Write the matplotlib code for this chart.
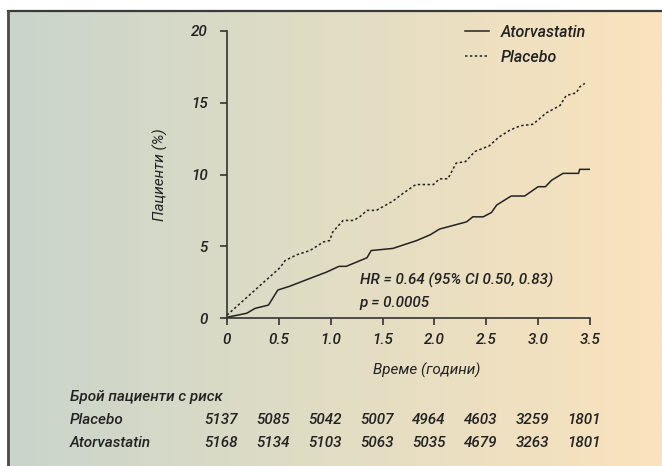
import numpy as np
import matplotlib
matplotlib.use("Agg")
import matplotlib.pyplot as plt
import matplotlib.transforms as mtransforms
from matplotlib.lines import Line2D

plt.rcParams['font.family'] = ['Roboto', 'DejaVu Sans']
plt.rcParams['font.style'] = 'italic'
plt.rcParams['font.weight'] = 500

# curves (years, % patients)
placebo_t = [0, 0.51, 0.56, 0.67, 0.8, 0.93, 0.99, 1.02, 1.07, 1.12, 1.22, 1.28, 1.35, 1.44,
             1.6, 1.7, 1.82, 1.99, 2.05, 2.13, 2.21, 2.3, 2.39, 2.53, 2.62, 2.73, 2.83,
             2.95, 3.08, 3.21, 3.27, 3.37, 3.4, 3.45]
placebo_v = [0.2, 3.5, 4.0, 4.4, 4.7, 5.3, 5.4, 6.0, 6.4, 6.8, 6.8, 7.05, 7.5, 7.5,
             8.15, 8.7, 9.3, 9.3, 9.7, 9.7, 10.8, 10.9, 11.6, 12.0, 12.6, 13.1, 13.4,
             13.5, 14.3, 14.8, 15.5, 15.7, 16.1, 16.35]

atorva_t = [0, 0.19, 0.27, 0.4, 0.49, 0.6, 0.8, 0.96, 1.08, 1.15, 1.35, 1.39, 1.6, 1.83,
            1.96, 2.05, 2.31, 2.37, 2.47, 2.55, 2.6, 2.74, 2.87, 3.0, 3.07, 3.13, 3.24,
            3.39, 3.4, 3.5]
atorva_v = [0.05, 0.33, 0.67, 0.9, 1.95, 2.2, 2.76, 3.2, 3.6, 3.6, 4.2, 4.7, 4.85, 5.4,
            5.8, 6.2, 6.7, 7.05, 7.05, 7.35, 7.87, 8.5, 8.5, 9.15, 9.15, 9.6, 10.08,
            10.08, 10.36, 10.36]

risk_times = [0, 0.5, 1.0, 1.5, 2.0, 2.5, 3.0, 3.5]
risk_placebo = [5137, 5085, 5042, 5007, 4964, 4603, 3259, 1801]
risk_atorva = [5168, 5134, 5103, 5063, 5035, 4679, 3263, 1801]

x_ticks = [0, 0.5, 1.0, 1.5, 2.0, 2.5, 3.0, 3.5]
x_ticklabels = ["0", "0.5", "1.0", "1.5", "2.0", "2.5", "3.0", "3.5"]
y_ticks = [0, 5, 10, 15, 20]

W, H = 662, 466
fig = plt.figure(figsize=(W / 100, H / 100), dpi=100)
fig.patch.set_facecolor("white")

# gradient background with a frame on top and left
bg = fig.add_axes([7 / W, 0, 1 - 7 / W, (H - 11) / H])
stops = np.array([[201, 213, 203], [226, 221, 196], [250, 227, 189]]) / 255
xs = np.linspace(0, 1, 256)
grad = np.stack([np.interp(xs, [0, 0.5, 1], stops[:, c]) for c in range(3)], axis=-1)
bg.imshow(grad[None, :, :], aspect="auto", extent=[0, 1, 0, 1])
bg.set_axis_off()
fig.add_artist(Line2D([7.5 / W, 1], [(H - 10.5) / H] * 2, color="#3a3a3a", lw=1.6))
fig.add_artist(Line2D([8 / W] * 2, [0, (H - 10.5) / H], color="#4a4a4a", lw=2.0))

ax = fig.add_axes([227 / W, (H - 318) / H, (590 - 227) / W, (318 - 31) / H])
ax.patch.set_alpha(0)
ax.plot(atorva_t, atorva_v, color="#222222", lw=1.1, label="Atorvastatin")
ax.plot(placebo_t, placebo_v, color="#222222", lw=1.1, ls=(0, (1.6, 1.6)), label="Placebo")

ax.set_xlim(0, 3.5)
ax.set_ylim(0, 20)
ax.set_xticks(x_ticks)
ax.set_xticklabels(x_ticklabels)
ax.set_yticks(y_ticks)
for s in ["top", "right"]:
    ax.spines[s].set_visible(False)
for s in ["left", "bottom"]:
    ax.spines[s].set_color("#333333")
    ax.spines[s].set_linewidth(1.2)
ax.tick_params(axis="both", colors="#333333", labelcolor="#222222", labelsize=11,
               length=5, width=1.2)
ax.tick_params(axis="y", pad=9)
ax.tick_params(axis="x", pad=6)

ax.set_xlabel("Време (години)", fontsize=11, color="#222222")
ax.xaxis.set_label_coords(0.55, -0.155)
ax.set_ylabel("Пациенти (%)", fontsize=11, color="#222222")
ax.yaxis.set_label_coords(-0.163, 0.5)

ax.legend(loc="upper left", bbox_to_anchor=(465 / W, (H - 25) / H),
          bbox_transform=fig.transFigure, frameon=False, fontsize=11.5,
          borderpad=0, borderaxespad=0, handlelength=1.5, handletextpad=0.75,
          labelspacing=0.62, labelcolor="#222222")

ax.text(1.28, 2.65, "HR = 0.64 (95% CI 0.50, 0.83)", fontsize=11, color="#222222",
        va="center", ha="left")
ax.text(1.28, 1.05, "p = 0.0005", fontsize=11, color="#222222", va="center", ha="left")

# numbers at risk
row_y = [(H - 420) / H, (H - 443) / H]
fig.text(70 / W, (H - 397) / H, "Брой пациенти с риск", fontsize=11, color="#222222",
         va="center")
fig.text(70 / W, row_y[0], "Placebo", fontsize=11, color="#222222", va="center")
fig.text(70 / W, row_y[1], "Atorvastatin", fontsize=11, color="#222222", va="center")
trans = mtransforms.blended_transform_factory(ax.transData, fig.transFigure)
trans = trans + mtransforms.ScaledTranslation(11 / 100, 0, fig.dpi_scale_trans)
for t, a, b in zip(risk_times, risk_placebo, risk_atorva):
    ax.text(t, row_y[0], str(a), transform=trans, ha="right", va="center",
            fontsize=11, color="#222222", clip_on=False)
    ax.text(t, row_y[1], str(b), transform=trans, ha="right", va="center",
            fontsize=11, color="#222222", clip_on=False)

fig.savefig("out.png", dpi=100)
